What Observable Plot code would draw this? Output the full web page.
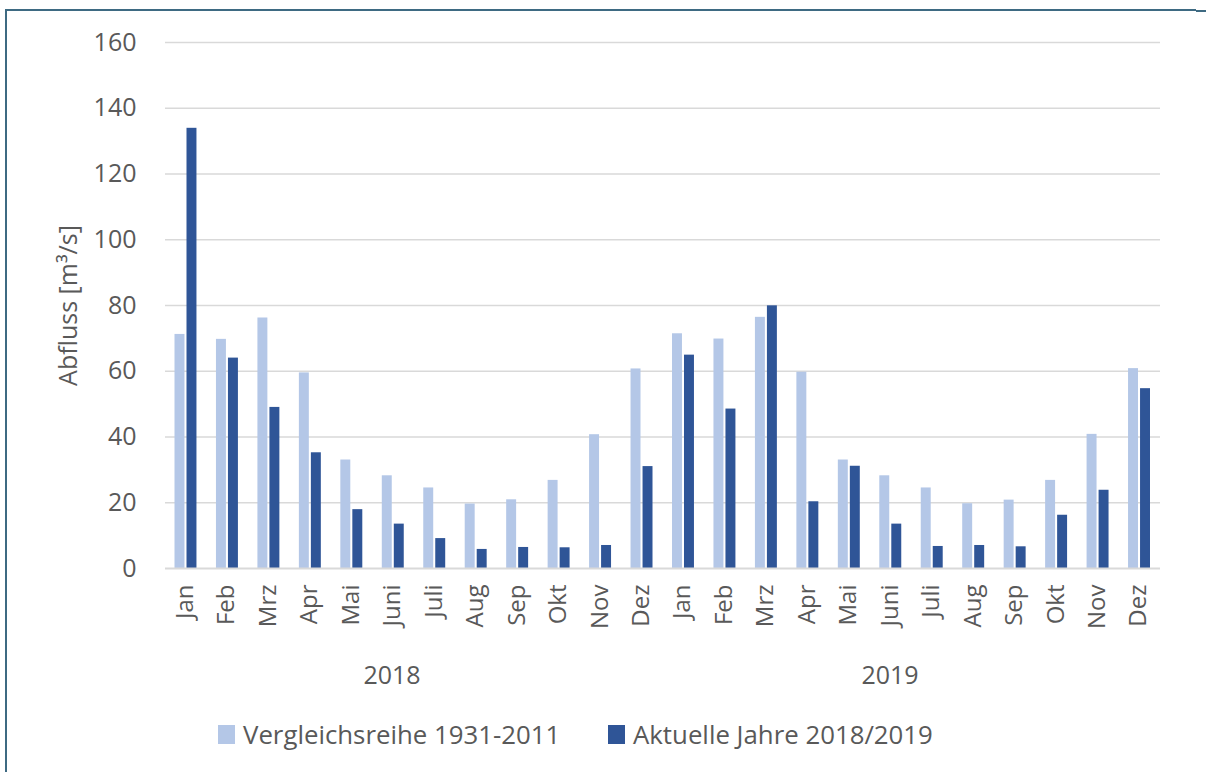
<!DOCTYPE html>
<html>
<head>
<meta charset="utf-8">
<script src="https://cdn.jsdelivr.net/npm/d3@7"></script>
<script src="https://cdn.jsdelivr.net/npm/@observablehq/plot@0.6"></script>
<style>
  html, body { margin: 0; padding: 0; background: #fff; }
  body { width: 1206px; height: 772px; position: relative; overflow: hidden; font-family: "Open Sans", sans-serif; color: #595959; }
  #frame { position: absolute; left: 5px; top: 9px; width: 1191px; height: 800px; border-left: 2px solid #3e6a82; border-top: 2px solid #3e6a82; box-sizing: border-box; }
  #frametick { position: absolute; left: 1196px; top: 10px; width: 10px; height: 2px; background: #3e6a82; }
  #chart { position: absolute; left: 0; top: 0; }
  .year { position: absolute; top: 657px; font-size: 25px; transform: translateX(-50%); white-space: nowrap; }
  .leg { position: absolute; top: 716px; font-size: 25.8px; white-space: nowrap; display: flex; align-items: center; }
  .sw { width: 17px; height: 19px; margin-right: 8px; }
</style>
</head>
<body>
<div id="frame"></div>
<div id="frametick"></div>
<div id="chart"></div>
<div class="year" id="y2018" style="left:392px"></div>
<div class="year" id="y2019" style="left:890px"></div>
<div class="leg" style="left:218px"><div class="sw" style="background:#b4c7e7"></div><span id="l1"></span></div>
<div class="leg" style="left:608px"><div class="sw" style="background:#2f5597"></div><span id="l2"></span></div>
<script>
const years = ["2018", "2019"];
const months = ["Jan","Feb","Mrz","Apr","Mai","Juni","Juli","Aug","Sep","Okt","Nov","Dez"];
const seriesNames = ["Vergleichsreihe 1931-2011", "Aktuelle Jahre 2018/2019"];
const vergleich = [71.2, 69.7, 76.2, 59.5, 33.0, 28.2, 24.5, 19.6, 20.9, 26.8, 40.7, 60.7,
                   71.4, 69.8, 76.4, 59.7, 33.0, 28.2, 24.5, 19.7, 20.8, 26.8, 40.8, 60.8];
const aktuell   = [133.9, 64.0, 49.0, 35.2, 17.9, 13.5, 9.1, 5.8, 6.4, 6.3, 7.0, 31.0,
                   64.9, 48.5, 79.9, 20.3, 31.1, 13.5, 6.7, 7.0, 6.6, 16.2, 23.8, 54.7];
const yTicks = [0, 20, 40, 60, 80, 100, 120, 140, 160];
const yLabel = "Abfluss [m³/s]";

const keys = [];
years.forEach(y => months.forEach(m => keys.push(y + "-" + m)));
const data = keys.map((k, i) => ({key: k, vergleich: vergleich[i], aktuell: aktuell[i]}));

const chart = Plot.plot({
  width: 1206,
  height: 772,
  marginLeft: 165,
  marginRight: 46,
  marginTop: 42,
  marginBottom: 204,
  style: {fontFamily: "'Open Sans', sans-serif", color: "#595959", background: "transparent"},
  x: {domain: keys, padding: 0, round: false},
  y: {domain: [0, 160]},
  marks: [
    Plot.gridY(yTicks.slice(1), {stroke: "#d9d9d9", strokeOpacity: 1, strokeWidth: 1.5}),
    Plot.barY(data, {x: "key", y: "vergleich", fill: "#b4c7e7", insetLeft: 9.5, insetRight: 22}),
    Plot.barY(data, {x: "key", y: "aktuell", fill: "#2f5597", insetLeft: 21.5, insetRight: 10}),
    Plot.ruleY([0], {stroke: "#d9d9d9", strokeWidth: 2}),
    Plot.axisX({tickRotate: -90, tickSize: 0, tickPadding: 16, fontSize: 24, label: null, dx: -1,
                tickFormat: d => d.split("-")[1]}),
    Plot.axisY({ticks: yTicks, tickSize: 0, tickPadding: 29, fontSize: 25, label: null}),
    Plot.text([yLabel], {frameAnchor: "left", rotate: -90, dx: -97, fontSize: 25,
                         text: d => d, textAnchor: "middle", lineAnchor: "middle", fill: "#595959"})
  ]
});
document.getElementById("chart").appendChild(chart);
document.getElementById("y2018").textContent = years[0];
document.getElementById("y2019").textContent = years[1];
document.getElementById("l1").textContent = seriesNames[0];
document.getElementById("l2").textContent = seriesNames[1];
</script>
</body>
</html>
